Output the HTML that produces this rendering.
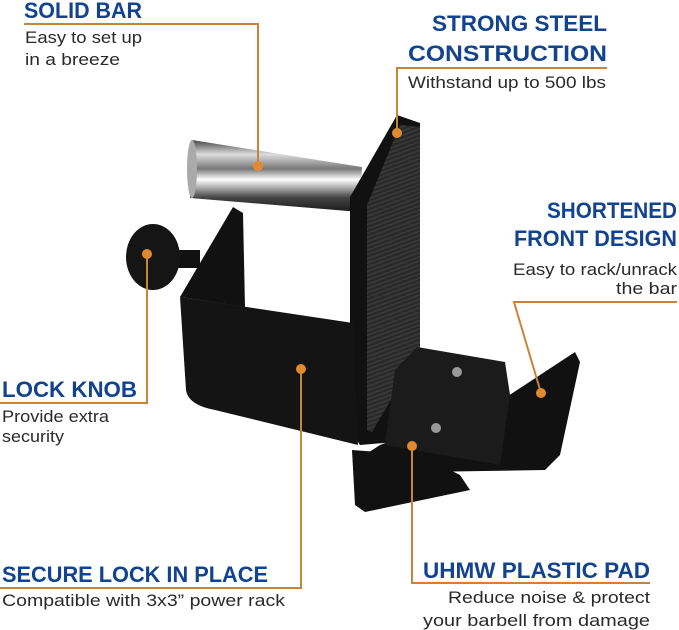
<!DOCTYPE html>
<html><head><meta charset="utf-8"><style>
html,body{margin:0;padding:0;background:#fff;}
svg{display:block;}
.h{font-family:"Liberation Sans",sans-serif;font-weight:bold;fill:#12438f;font-size:22px;}
.b{font-family:"Liberation Sans",sans-serif;fill:#2a2a2a;font-size:17px;}
.l{stroke:#c8843a;stroke-width:2;fill:none;}
.d{fill:#e08a2e;}
</style></head><body>
<svg width="679" height="630" viewBox="0 0 679 630" xmlns="http://www.w3.org/2000/svg">
<defs>
<linearGradient id="bar" x1="0" y1="0" x2="0" y2="1">
<stop offset="0" stop-color="#444"/><stop offset="0.2" stop-color="#ddd"/><stop offset="0.4" stop-color="#777"/><stop offset="0.55" stop-color="#fff"/><stop offset="0.8" stop-color="#444"/><stop offset="1" stop-color="#1a1a1a"/>
</linearGradient>
<pattern id="tex" width="4" height="4" patternUnits="userSpaceOnUse" patternTransform="rotate(-20)">
<rect width="4" height="4" fill="#2a2a2a"/><rect width="4" height="1.5" fill="#3a3a3a"/>
</pattern>
</defs>
<!-- bar -->
<polygon points="192,140 362,167 360,212 190,198" fill="url(#bar)"/>
<ellipse cx="192" cy="169" rx="5" ry="29" fill="#aaa"/>
<!-- upright -->
<polygon points="350,197 397,115 420,123 420,440 360,445 350,430" fill="#111"/>
<polygon points="367,205 400,125 420,127 420,350 372,432 367,430" fill="url(#tex)"/>
<!-- bottom clamp -->
<polygon points="352,450 420,455 460,475 470,490 365,512 355,505" fill="#111"/>
<!-- side triangle & knob -->
<polygon points="233,207 243,213 245,307 180,297" fill="#111"/>
<rect x="170" y="250" width="30" height="18" fill="#111"/>
<ellipse cx="153" cy="257" rx="27" ry="33" fill="#151515"/>
<!-- front panel -->
<path d="M180,297 L353,323 L358,445 L215,410 Q188,405 186,390 Z" fill="#141414"/>
<!-- pad -->
<polygon points="505,398 575,352 580,362 560,455 545,470 420,472 360,458 380,445" fill="#111"/>
<polygon points="395,370 417,347 505,362 510,395 500,465 385,445" fill="#1b1b1b"/>
<circle cx="457" cy="372" r="5" fill="#999"/><circle cx="436" cy="428" r="5" fill="#999"/>
<!-- connectors -->
<polyline class="l" points="24,24 258,24 258,166"/><circle class="d" cx="258" cy="166" r="5"/>
<polyline class="l" points="607,68 397,68 397,133"/><circle class="d" cx="397" cy="133" r="5"/>
<polyline class="l" points="677,302 514,302 541,393"/><circle class="d" cx="541" cy="393" r="5"/>
<polyline class="l" points="0,403 147,403 147,254"/><circle class="d" cx="147" cy="254" r="5"/>
<polyline class="l" points="0,588 301,588 301,369"/><circle class="d" cx="301" cy="369" r="5"/>
<polyline class="l" points="650,583 412,583 412,446"/><circle class="d" cx="412" cy="446" r="5"/>
<!-- text -->
<text class="h" x="24" y="18" textLength="118" lengthAdjust="spacingAndGlyphs">SOLID BAR</text>
<text class="b" x="25" y="43" textLength="117" lengthAdjust="spacingAndGlyphs">Easy to set up</text>
<text class="b" x="25" y="65" textLength="95" lengthAdjust="spacingAndGlyphs">in a breeze</text>
<text class="h" x="432" y="31" textLength="175" lengthAdjust="spacingAndGlyphs">STRONG STEEL</text>
<text class="h" x="408" y="61" textLength="199" lengthAdjust="spacingAndGlyphs">CONSTRUCTION</text>
<text class="b" x="408" y="88" textLength="198" lengthAdjust="spacingAndGlyphs">Withstand up to 500 lbs</text>
<text class="h" x="547" y="218" textLength="130" lengthAdjust="spacingAndGlyphs">SHORTENED</text>
<text class="h" x="514" y="246" textLength="163" lengthAdjust="spacingAndGlyphs">FRONT DESIGN</text>
<text class="b" x="513" y="275" textLength="164" lengthAdjust="spacingAndGlyphs">Easy to rack/unrack</text>
<text class="b" x="616" y="294" textLength="61" lengthAdjust="spacingAndGlyphs">the bar</text>
<text class="h" x="2" y="397" textLength="135" lengthAdjust="spacingAndGlyphs">LOCK KNOB</text>
<text class="b" x="2" y="422" textLength="107" lengthAdjust="spacingAndGlyphs">Provide extra</text>
<text class="b" x="2" y="442" textLength="62" lengthAdjust="spacingAndGlyphs">security</text>
<text class="h" x="2" y="582" textLength="266" lengthAdjust="spacingAndGlyphs">SECURE LOCK IN PLACE</text>
<text class="b" x="2" y="606" textLength="283" lengthAdjust="spacingAndGlyphs">Compatible with 3x3” power rack</text>
<text class="h" x="423" y="578" textLength="227" lengthAdjust="spacingAndGlyphs">UHMW PLASTIC PAD</text>
<text class="b" x="448" y="603" textLength="202" lengthAdjust="spacingAndGlyphs">Reduce noise &amp; protect</text>
<text class="b" x="423" y="626" textLength="227" lengthAdjust="spacingAndGlyphs">your barbell from damage</text>
</svg>
</body></html>
